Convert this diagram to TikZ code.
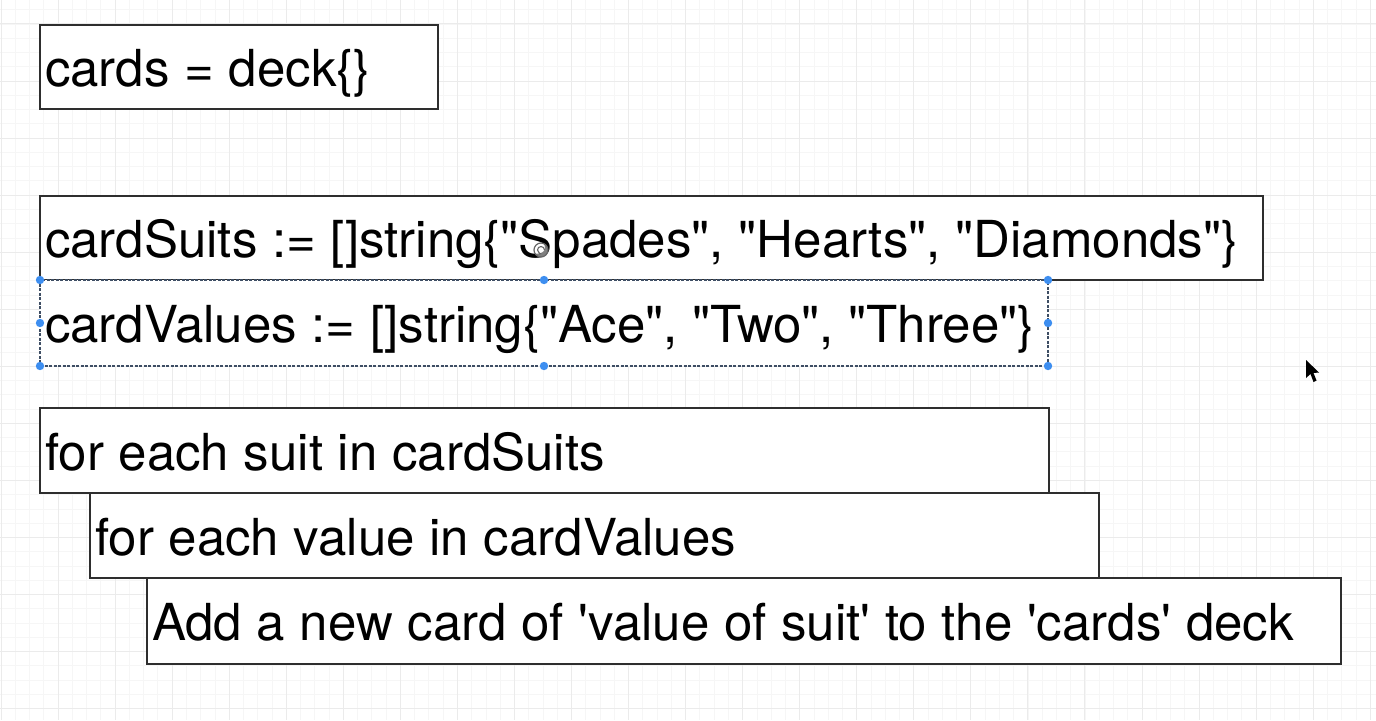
\documentclass[tikz,border=0pt]{standalone}
\usepackage{fontspec}
\usetikzlibrary{arrows.meta}
\newfontfamily\codefont{TeX Gyre Heros}
\newcommand\codesize{\fontsize{51bp}{60bp}\selectfont}
% word gap used inside the code lines
\newcommand\gap{\hspace*{14.7bp}}
\definecolor{gridmajor}{HTML}{EBEBEB}
\definecolor{gridminor}{HTML}{F6F6F6}
\definecolor{frame}{HTML}{2E2E2E}
\definecolor{handle}{HTML}{3D8EF0}
\definecolor{selline}{HTML}{3E4E64}
\begin{document}
\begin{tikzpicture}[x=1bp,y=-1bp,
  codebox/.style={draw=frame, line width=2bp, fill=white, anchor=north west,
    outer sep=0pt, inner xsep=5bp, inner ysep=0pt,
    font=\codefont\codesize,
    text height=42bp, text depth=3bp, align=left},
  selbox/.style={codebox, draw=selline, line width=1.3bp, dash pattern=on 3bp off 1.5bp},
  grip/.style={fill=handle, draw=none}]
\useasboundingbox (0,0) rectangle (1376,720);
\fill[white] (0,0) rectangle (1376,720);
% canvas grid
\foreach \k in {0,...,96} \draw[gridminor, line width=0.8bp] ({1+14.2625*\k},0) -- ++(0,720);
\foreach \k in {-1,...,50} \draw[gridminor, line width=0.8bp] (0,{24+14.2625*\k}) -- ++(1376,0);
\foreach \k in {0,...,24} \draw[gridmajor, line width=1bp] ({1+57.05*\k},0) -- ++(0,720);
\foreach \k in {0,...,12} \draw[gridmajor, line width=1bp] (0,{24+57.05*\k}) -- ++(1376,0);

% code blocks
\node[codebox, minimum height=84bp, text width=388bp] (deck) at (40,25)
  {\mbox{cards\gap=\gap{}deck\{\}}};
\node[codebox, minimum height=84bp, text width=1213bp] (suits) at (40,196)
  {\mbox{cardSuits\gap:=\gap[]string\{"Spades",\gap"Hearts",\gap"Diamonds"\}}};
\node[selbox, minimum height=86bp, text width=998bp] (vals) at (40,280)
  {\mbox{cardValues\gap:=\gap[]string\{"Ace",\gap"Two",\gap"Three"\}}};
\node[codebox, minimum height=85bp, text width=999bp] (outer) at (40,408)
  {\mbox{for\gap{}each\gap{}suit\gap{}in\gap{}cardSuits}};
\node[codebox, minimum height=85bp, text width=999bp] (inner) at (90,493)
  {\mbox{for\gap{}each\gap{}value\gap{}in\gap{}cardValues}};
\node[codebox, minimum height=86bp, text width=1184bp] (body) at (147,578)
  {\mbox{Add\gap{}a\gap{}new\gap{}card\gap{}of\gap'value\gap{}of\gap{}suit'\gap{}to\gap{}the\gap'cards'\gap{}deck}};

% selection handles
\foreach \a in {north west,north,north east,west,east,south west,south,south east}
  \fill[grip] (vals.\a) circle (4.2bp);

% rotate handle
\draw[gray!80!black, line width=1.2bp, fill=white, fill opacity=0.5] (541,250) circle (7bp);
\draw[gray!80!black, line width=1.1bp, -{Stealth[length=2.5bp]}] (544.5,250) arc (0:280:3.5bp);

% mouse pointer
\fill[black] (1306,360) -- (1306,378) -- (1310.5,374) -- (1313.5,382) -- (1316.5,380.5) -- (1313.5,373) -- (1319,372.5) -- cycle;
\end{tikzpicture}
\end{document}
